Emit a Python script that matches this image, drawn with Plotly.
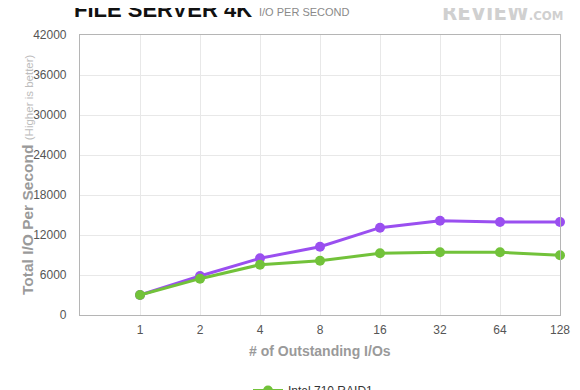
import plotly.graph_objects as go

categories = ["1", "2", "4", "8", "16", "32", "64", "128"]
purple_name = "Intel 710 RAID0"
purple_values = [3000, 5850, 8500, 10250, 13100, 14150, 13950, 13950]
green_name = "Intel 710 RAID1"
green_values = [3000, 5450, 7550, 8150, 9250, 9400, 9400, 8950]
y_ticks = [0, 6000, 12000, 18000, 24000, 30000, 36000, 42000]

FONT = "Liberation Sans, Arial, Helvetica, sans-serif"
NARROW = "Liberation Sans Narrow, DejaVu Sans Condensed, Arial Narrow, sans-serif"
xpos = list(range(len(categories)))

# page has an 8px body margin; plot area in page coords: x 80..560, y 35..315
OFF = 8
PL, PT, PR, PB = 80 - OFF, 35 - OFF, 560 - OFF, 315 - OFF
W, H = 580 - OFF, 390 - OFF


def px(x):  # page x -> paper x
    return (x - 80) / 480


def py(y):  # page y -> paper y
    return (315 - y) / 280


fig = go.Figure()
fig.add_trace(go.Scatter(
    x=xpos, y=purple_values, name=purple_name, mode="lines+markers",
    line=dict(color="#9a4ff0", width=3),
    marker=dict(color="#9a4ff0", size=10),
    cliponaxis=False,
))
fig.add_trace(go.Scatter(
    x=xpos, y=green_values, name=green_name, mode="lines+markers",
    line=dict(color="#72c23a", width=3),
    marker=dict(color="#72c23a", size=10),
    cliponaxis=False,
))

fig.update_layout(
    width=W, height=H,
    margin=dict(l=PL, r=W - PR, t=PT, b=H - PB, autoexpand=False),
    paper_bgcolor="white", plot_bgcolor="white",
    font=dict(family=FONT, color="#555555"),
    showlegend=True,
    legend=dict(
        orientation="v", traceorder="reversed",
        x=px(248), xanchor="left", y=py(376), yanchor="top",
        font=dict(size=12, color="#333333", family=FONT),
        bgcolor="rgba(0,0,0,0)",
    ),
    xaxis=dict(
        range=[-1, 7], tickmode="array", tickvals=xpos, ticktext=categories,
        showgrid=True, gridcolor="#e8e8e8", gridwidth=1,
        showline=True, linecolor="#b5b5b5", linewidth=1.2, mirror=True,
        zeroline=False, ticks="", tickfont=dict(size=12, color="#555555"),
        ticklabelstandoff=3, automargin=False,
    ),
    yaxis=dict(
        range=[0, 42000], tickmode="array", tickvals=y_ticks,
        ticktext=[str(v) for v in y_ticks],
        showgrid=True, gridcolor="#e8e8e8", gridwidth=1,
        showline=True, linecolor="#b5b5b5", linewidth=1.2, mirror=True,
        zeroline=False, ticks="", tickfont=dict(size=12, color="#555555"),
        ticklabelstandoff=10, automargin=False,
    ),
    annotations=[
        dict(text="<b>FILE SERVER 4K</b>", xref="paper", yref="paper",
             x=px(72), y=py(9), xanchor="left", yanchor="middle",
             showarrow=False, font=dict(size=22, color="#111111", family=FONT)),
        dict(text="I/O PER SECOND", xref="paper", yref="paper",
             x=px(257), y=py(12), xanchor="left", yanchor="middle",
             showarrow=False, font=dict(size=11, color="#8a8a8a", family=FONT)),
        dict(text="<b>REVIEW<span style='font-size:13px'>.COM</span></b>", xref="paper", yref="paper",
             x=px(565), y=py(12), xanchor="right", yanchor="middle",
             showarrow=False, font=dict(size=22, color="#d0d0d0", family=NARROW)),
        dict(text="<b>Total I/O Per Second</b> <span style='font-size:11.5px;color:#bdbdbd'>(Higher is better)</span>",
             xref="paper", yref="paper", x=px(27), y=py(175),
             xanchor="center", yanchor="middle", textangle=-90,
             showarrow=False, font=dict(size=15.5, color="#9a9a9a", family=FONT)),
        dict(text="<b># of Outstanding I/Os</b>", xref="paper", yref="paper",
             x=px(320), y=py(351), xanchor="center", yanchor="middle",
             showarrow=False, font=dict(size=14, color="#9a9a9a", family=FONT)),
    ],
)

fig.write_html("out.html")
